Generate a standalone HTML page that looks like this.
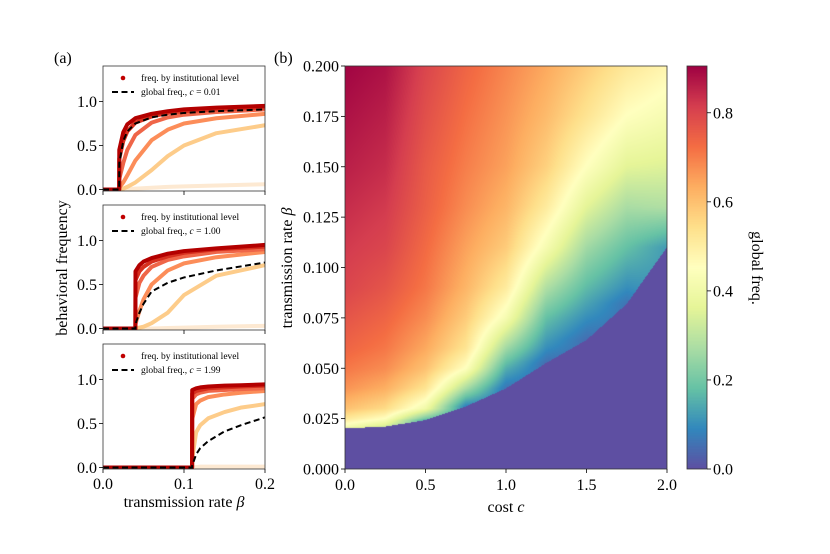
<!DOCTYPE html>
<html><head><meta charset="utf-8"><style>
body{margin:0;background:#fff;}
#wrap{position:relative;width:830px;height:554px;overflow:hidden;font-family:"Liberation Serif",serif;}
svg{position:absolute;left:0;top:0;}
canvas{position:absolute;}
</style></head><body>
<div id="wrap">
<canvas id="heat" width="322" height="403" style="left:345px;top:66px"></canvas>
<canvas id="cbar" width="20" height="403" style="left:687px;top:66px"></canvas>
<svg id="svg" width="830" height="554"></svg>
</div>
<script>
// ---------- Panel (a) data ----------
const betasA1=[0,0.02,0.0201,0.025,0.03,0.04,0.06,0.08,0.1,0.14,0.2];
const levelsA1=[
[0,0,0.45,0.65,0.74,0.81,0.86,0.89,0.91,0.93,0.95],
[0,0,0.35,0.55,0.66,0.76,0.83,0.87,0.89,0.91,0.93],
[0,0,0.12,0.3,0.45,0.62,0.76,0.82,0.85,0.88,0.91],
[0,0,0.02,0.08,0.16,0.33,0.56,0.68,0.75,0.81,0.86],
[0,0,0,0.01,0.03,0.08,0.22,0.38,0.5,0.64,0.73],
[0,0,0,0,0.005,0.01,0.02,0.03,0.035,0.045,0.06]];
const globalA1=[0,0,0.3,0.55,0.66,0.75,0.82,0.85,0.87,0.89,0.91];
const betasA2=[0,0.04,0.0401,0.045,0.05,0.06,0.08,0.1,0.14,0.2];
const levelsA2=[
[0,0,0.65,0.72,0.76,0.8,0.85,0.88,0.91,0.95],
[0,0,0.55,0.65,0.7,0.76,0.82,0.86,0.9,0.93],
[0,0,0.35,0.52,0.6,0.7,0.78,0.82,0.87,0.9],
[0,0,0.05,0.2,0.33,0.5,0.66,0.74,0.81,0.87],
[0,0,0,0.01,0.02,0.06,0.18,0.38,0.6,0.72],
[0,0,0,0,0,0,0.005,0.01,0.02,0.03]];
const globalA2=[0,0,0.05,0.18,0.28,0.42,0.52,0.58,0.66,0.75];
const betasA3=[0,0.11,0.1101,0.115,0.12,0.13,0.15,0.17,0.2];
const levelsA3=[
[0,0,0.88,0.9,0.91,0.92,0.93,0.935,0.945],
[0,0,0.84,0.87,0.88,0.9,0.91,0.92,0.93],
[0,0,0.78,0.83,0.85,0.87,0.88,0.89,0.9],
[0,0,0.55,0.72,0.76,0.8,0.83,0.85,0.87],
[0,0,0.1,0.4,0.48,0.56,0.63,0.68,0.72],
[0,0,0,0.005,0.01,0.01,0.01,0.01,0.01]];
const globalA3=[0,0,0.02,0.15,0.22,0.3,0.41,0.48,0.57];
const costLabels=["0.01","1.00","1.99"];
const yTicksA=[0,0.5,1.0];
const xTicksA=[0,0.1,0.2];
// ---------- Panel (b) data ----------
const costs=[0,0.25,0.5,0.75,1.0,1.25,1.5,1.75,2.0];
const thresholds=[0.0202,0.021,0.0243,0.031,0.040,0.0526,0.064,0.082,0.110];
const edgeVals=[0.38,0.3,0.15,0.08,0.06,0.05,0.05,0.06,0.12];
const gridBetas=[0.021,0.025,0.03,0.04,0.05,0.06,0.075,0.09,0.11,0.13,0.15,0.175,0.2];
const N=null;
const gridVals=[
[0.42,0.52,0.6,0.67,0.71,0.74,0.77,0.8,0.82,0.84,0.86,0.88,0.9],
[0.33,0.45,0.55,0.63,0.68,0.71,0.74,0.77,0.8,0.82,0.84,0.86,0.88],
[N,0.2,0.4,0.53,0.6,0.64,0.68,0.71,0.73,0.75,0.76,0.78,0.8],
[N,N,N,0.27,0.45,0.53,0.58,0.62,0.65,0.68,0.7,0.72,0.74],
[N,N,N,N,0.15,0.26,0.42,0.51,0.58,0.62,0.65,0.67,0.69],
[N,N,N,N,N,0.1,0.18,0.28,0.42,0.51,0.57,0.61,0.64],
[N,N,N,N,N,N,0.1,0.17,0.26,0.36,0.45,0.53,0.58],
[N,N,N,N,N,N,N,0.1,0.18,0.27,0.36,0.45,0.52],
[N,N,N,N,N,N,N,N,N,0.28,0.35,0.42,0.48]];
const vmax=0.905;
const xTicksB=[0,0.5,1.0,1.5,2.0];
const yTicksB=[0,0.025,0.05,0.075,0.1,0.125,0.15,0.175,0.2];
const cbTicks=[0,0.2,0.4,0.6,0.8];

const NS="http://www.w3.org/2000/svg";
const svg=document.getElementById('svg');
function mk(tag,attrs,parent){const e=document.createElementNS(NS,tag);for(const k in attrs)e.setAttribute(k,attrs[k]);(parent||svg).appendChild(e);return e;}
function txt(x,y,s,size,anchor,parent,extra){const t=mk('text',Object.assign({x:x,y:y,'font-size':size,'text-anchor':anchor||'middle','font-family':'"Liberation Serif",serif',fill:'#000'},extra||{}),parent);t.textContent=s;return t;}

const levelColors=['#b30000','#d7301f','#ef6548','#fc8d59','#fdcc8a','#fde9d2'];
const panels=[{top:66,b:betasA1,L:levelsA1,g:globalA1},{top:205,b:betasA2,L:levelsA2,g:globalA2},{top:344,b:betasA3,L:levelsA3,g:globalA3}];
const axL=103,axR=265,axH=125;
panels.forEach((p,i)=>{
  const g=mk('g',{});
  
  
  const y0=p.top+axH-1.5; const s=88;
  const X=b=>axL+(b/0.2)*(axR-axL);
  const Y=v=>y0-v*s;
  const clip=mk('clipPath',{id:'cl'+i},g);mk('rect',{x:axL,y:p.top,width:axR-axL,height:axH},clip);
  const cg=mk('g',{'clip-path':'url(#cl'+i+')'},g);
  for(let l=p.L.length-1;l>=0;l--){
    const pts=p.b.map((b,k)=>X(b)+','+Y(p.L[l][k])).join(' ');
    const pl=mk('polyline',{points:pts,fill:'none',stroke:levelColors[l],'stroke-width':4,'stroke-linejoin':'round','stroke-linecap':'round'},cg);
    
    
  }
  const gp=p.b.map((b,k)=>X(b)+','+Y(p.g[k])).join(' ');
  const gl=mk('polyline',{points:gp,fill:'none',stroke:'#000','stroke-width':2,'stroke-dasharray':'6,3.5'},cg);
  
  
  mk('rect',{x:axL,y:p.top,width:axR-axL,height:axH,fill:'none',stroke:'#333','stroke-width':0.8},g);
  yTicksA.forEach(v=>{mk('line',{x1:axL-4,x2:axL,y1:Y(v),y2:Y(v),stroke:'#000','stroke-width':0.8},g);txt(axL-6,Y(v)+5.5,v.toFixed(1),16,'end',g);});
  xTicksA.forEach(v=>{mk('line',{x1:X(v),x2:X(v),y1:p.top+axH,y2:p.top+axH+4,stroke:'#000','stroke-width':0.8},g);});
  const lg=mk('g',{},g);
  
  
  mk('circle',{cx:123,cy:p.top+12,r:2.3,fill:'#c00000'},lg);
  txt(141,p.top+15,'freq. by institutional level',9.5,'start',lg);
  mk('line',{x1:112,x2:134,y1:p.top+26,y2:p.top+26,stroke:'#000','stroke-width':2,'stroke-dasharray':'6,3.5'},lg);
  const t=txt(141,p.top+29,'global freq., ',9.5,'start',lg);
  const ts=mk('tspan',{'font-style':'italic'},t);ts.textContent='c';
  const ts2=mk('tspan',{},t);ts2.textContent=' = '+costLabels[i];
  if(i===2) xTicksA.forEach(v=>txt(X(v),p.top+axH+20,v.toFixed(1),16,'middle',g));
});
txt(54,63,'(a)',16,'start');
txt(274,63,'(b)',16,'start');
const yl=txt(0,0,'behavioral frequency',16,'middle',null,{transform:'translate(67,268) rotate(-90)'});

const xl=txt(184,507,'transmission rate ',16,'middle');

{const s=mk('tspan',{'font-style':'italic'},xl);s.textContent='β';}

function spectralR(t){
  const cs=[[94,79,162],[50,136,189],[102,194,165],[171,221,164],[230,245,152],[255,255,191],[254,224,139],[253,174,97],[244,109,67],[213,62,79],[158,1,66]];
  t=Math.max(0,Math.min(1,t))*10;const i=Math.min(9,Math.floor(t));const f=t-i;
  return cs[i].map((c,k)=>Math.round(c+(cs[i+1][k]-c)*f));
}
function colVal(j,b){
  const v=gridVals[j];const th=thresholds[j];
  let k0=v.findIndex(x=>x!==null);
  if(b<=gridBetas[k0]){const bb=gridBetas[k0];if(bb<=th)return v[k0];const f=Math.max(0,(b-th)/(bb-th));return edgeVals[j]+(v[k0]-edgeVals[j])*f;}
  for(let k=k0;k<gridBetas.length-1;k++){if(b<=gridBetas[k+1]){const f=(b-gridBetas[k])/(gridBetas[k+1]-gridBetas[k]);return v[k]+(v[k+1]-v[k])*f;}}
  return v[v.length-1];
}
function lerpArr(arr,c){for(let j=0;j<costs.length-1;j++){if(c<=costs[j+1]){const f=(c-costs[j])/(costs[j+1]-costs[j]);return [j,f,arr[j]+(arr[j+1]-arr[j])*f];}}return [costs.length-2,1,arr[arr.length-1]];}
const hc=document.getElementById('heat').getContext('2d');
const W=322,H=403;const img=hc.createImageData(W,H);
for(let px=0;px<W;px++){
  const c=(px+0.5)/W*2.0;const [j,f,th]=lerpArr(thresholds,c);
  for(let py=0;py<H;py++){
    const b=(H-py-0.5)/H*0.2;let v=0;
    if(b>=th){v=colVal(j,b)*(1-f)+colVal(j+1,b)*f;}
    const col=spectralR(v/vmax);const o=(py*W+px)*4;
    img.data[o]=col[0];img.data[o+1]=col[1];img.data[o+2]=col[2];img.data[o+3]=255;
  }
}
hc.putImageData(img,0,0);
const cb=document.getElementById('cbar').getContext('2d');
for(let py=0;py<403;py++){const col=spectralR((403-py-0.5)/403);cb.fillStyle='rgb('+col.join(',')+')';cb.fillRect(0,py,20,1);}

const bg=mk('g',{});


const XB=c=>345+c/2*322, YB=b=>469-b/0.2*403;
mk('rect',{x:345,y:66,width:322,height:403,fill:'none',stroke:'#333','stroke-width':0.8},bg);
xTicksB.forEach(v=>{mk('line',{x1:XB(v),x2:XB(v),y1:469,y2:473,stroke:'#000','stroke-width':0.8},bg);txt(XB(v),490,v.toFixed(1),16,'middle',bg);});
yTicksB.forEach(v=>{mk('line',{x1:341,x2:345,y1:YB(v),y2:YB(v),stroke:'#000','stroke-width':0.8},bg);txt(339,YB(v)+5.5,v.toFixed(3),16,'end',bg);});
const xlb=txt(506,512,'cost ',16,'middle');

{const s=mk('tspan',{'font-style':'italic'},xlb);s.textContent='c';}
const ylb=txt(0,0,'transmission rate ',16,'middle',null,{transform:'translate(292,268) rotate(-90)'});

{const s=mk('tspan',{'font-style':'italic'},ylb);s.textContent='β';}
const cg2=mk('g',{});


mk('rect',{x:687,y:66,width:20,height:403,fill:'none',stroke:'#333','stroke-width':0.8},cg2);
cbTicks.forEach(v=>{const y=469-v/vmax*403;mk('line',{x1:707,x2:711,y1:y,y2:y,stroke:'#000','stroke-width':0.8},cg2);txt(713,y+5.5,v.toFixed(1),16,'start',cg2);});
const cbl=txt(0,0,'global freq.',16,'middle',null,{transform:'translate(752,268) rotate(90)'});

</script>
</body></html>
